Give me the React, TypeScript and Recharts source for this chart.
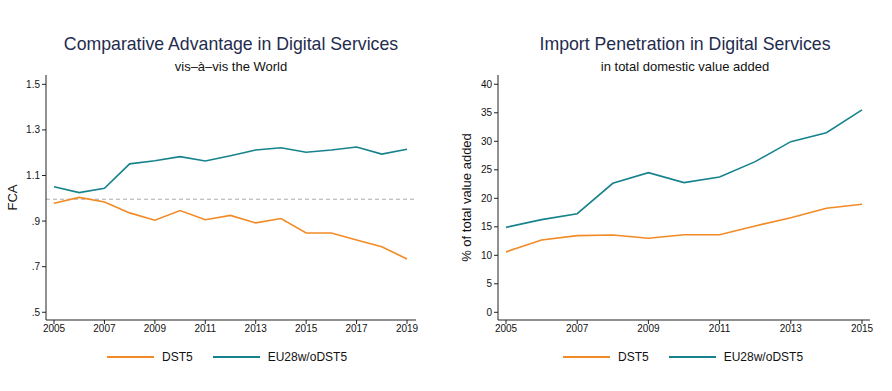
import React from 'react';
import { LineChart, Line, XAxis, YAxis, ReferenceLine } from 'recharts';

const ORANGE = '#f28a26';
const TEAL = '#16838c';
const FONT = '"Liberation Sans", Arial, sans-serif';

// Left panel: FCA vis-a-vis the World
const yearsFca = [2005, 2006, 2007, 2008, 2009, 2010, 2011, 2012, 2013, 2014, 2015, 2016, 2017, 2018, 2019];
const fcaDst5 = [0.978, 1.004, 0.984, 0.936, 0.904, 0.946, 0.906, 0.925, 0.892, 0.911, 0.848, 0.848, 0.817, 0.787, 0.734];
const fcaEu28 = [1.051, 1.025, 1.044, 1.151, 1.165, 1.183, 1.164, 1.187, 1.212, 1.222, 1.202, 1.212, 1.225, 1.194, 1.215];
const fcaYTicks = [0.5, 0.7, 0.9, 1.1, 1.3, 1.5];
const fcaXTicks = [2005, 2007, 2009, 2011, 2013, 2015, 2017, 2019];

// Right panel: import penetration, % of total value added
const yearsImp = [2005, 2006, 2007, 2008, 2009, 2010, 2011, 2012, 2013, 2014, 2015];
const impDst5 = [10.6, 12.7, 13.45, 13.57, 13.0, 13.6, 13.6, 15.15, 16.6, 18.25, 18.95];
const impEu28 = [14.9, 16.26, 17.3, 22.63, 24.5, 22.75, 23.74, 26.43, 29.94, 31.5, 35.5];
const impYTicks = [0, 5, 10, 15, 20, 25, 30, 35, 40];
const impXTicks = [2005, 2007, 2009, 2011, 2013, 2015];

const fcaData = yearsFca.map((year, i) => ({ year, DST5: fcaDst5[i], EU28: fcaEu28[i] }));
const impData = yearsImp.map((year, i) => ({ year, DST5: impDst5[i], EU28: impEu28[i] }));

const tickStyle = { fontSize: 10, fill: '#111', fontFamily: FONT };
const axisLine = { stroke: '#222', strokeWidth: 1 };

const fmtFca = (v: number) => {
  const s = v.toFixed(1);
  return s.startsWith('0') ? s.slice(1) : s;
};

const Title = ({ x, title, sub }: { x: number; title: string; sub: string }) => (
  <div style={{ position: 'absolute', left: x - 250, top: 34, width: 500, textAlign: 'center', fontFamily: FONT }}>
    <div style={{ fontSize: 17.7, color: '#1f2c4e', lineHeight: '20px' }}>{title}</div>
    <div style={{ fontSize: 13, color: '#111', lineHeight: '16px', marginTop: 5 }}>{sub}</div>
  </div>
);

const LegendRow = ({ x }: { x: number }) => (
  <div style={{ position: 'absolute', left: x, top: 349, height: 16, display: 'flex', alignItems: 'center', fontFamily: FONT, fontSize: 12, color: '#111' }}>
    <span style={{ width: 47, height: 2, background: ORANGE, display: 'inline-block' }} />
    <span style={{ marginLeft: 8 }}>DST5</span>
    <span style={{ width: 47, height: 2, background: TEAL, display: 'inline-block', marginLeft: 20 }} />
    <span style={{ marginLeft: 8 }}>EU28w/oDST5</span>
  </div>
);

const App = () => {
  return (
    <div style={{ position: 'absolute', left: 0, top: 0, width: 892, height: 391, background: '#fff', overflow: 'hidden' }}>
      <Title x={231} title="Comparative Advantage in Digital Services" sub="vis–à–vis the World" />
      <Title x={685} title="Import Penetration in Digital Services" sub="in total domestic value added" />

      <div style={{ position: 'absolute', left: 0, top: 0 }}>
        <LineChart width={446} height={391} data={fcaData} margin={{ top: 75, right: 30, bottom: 41, left: 6 }}>
          <XAxis
            dataKey="year"
            type="number"
            domain={[2005, 2019]}
            ticks={fcaXTicks}
            padding={{ left: 8, right: 9 }}
            height={30}
            tick={tickStyle}
            tickSize={4}
            tickMargin={1}
            axisLine={axisLine}
            tickLine={axisLine}
          />
          <YAxis
            type="number"
            domain={[0.466, 1.541]}
            allowDataOverflow
            ticks={fcaYTicks}
            tickFormatter={fmtFca}
            width={40}
            tick={tickStyle}
            tickSize={4}
            tickMargin={2}
            axisLine={axisLine}
            tickLine={axisLine}
            label={{ value: 'FCA', angle: -90, position: 'insideLeft', offset: 0, dx: 6, style: { fontSize: 13, fill: '#111', fontFamily: FONT, textAnchor: 'middle' } }}
          />
          <ReferenceLine y={0.996} stroke="#aaa" strokeDasharray="4 3" strokeWidth={1} />
          <Line dataKey="DST5" stroke={ORANGE} strokeWidth={1.6} dot={false} isAnimationActive={false} />
          <Line dataKey="EU28" stroke={TEAL} strokeWidth={1.6} dot={false} isAnimationActive={false} />
        </LineChart>
      </div>

      <div style={{ position: 'absolute', left: 446, top: 0 }}>
        <LineChart width={446} height={391} data={impData} margin={{ top: 75, right: 22, bottom: 41, left: 12 }}>
          <XAxis
            dataKey="year"
            type="number"
            domain={[2005, 2015]}
            ticks={impXTicks}
            padding={{ left: 8, right: 8 }}
            height={30}
            tick={tickStyle}
            tickSize={4}
            tickMargin={1}
            axisLine={axisLine}
            tickLine={axisLine}
          />
          <YAxis
            type="number"
            domain={[-1.35, 41.63]}
            allowDataOverflow
            ticks={impYTicks}
            width={40}
            tick={tickStyle}
            tickSize={4}
            tickMargin={2}
            axisLine={axisLine}
            tickLine={axisLine}
            label={{ value: '% of total value added', angle: -90, position: 'insideLeft', offset: 0, dx: 8, style: { fontSize: 13, fill: '#111', fontFamily: FONT, textAnchor: 'middle' } }}
          />
          <Line dataKey="DST5" stroke={ORANGE} strokeWidth={1.6} dot={false} isAnimationActive={false} />
          <Line dataKey="EU28" stroke={TEAL} strokeWidth={1.6} dot={false} isAnimationActive={false} />
        </LineChart>
      </div>

      <LegendRow x={107} />
      <LegendRow x={563} />
    </div>
  );
};

export default App;
